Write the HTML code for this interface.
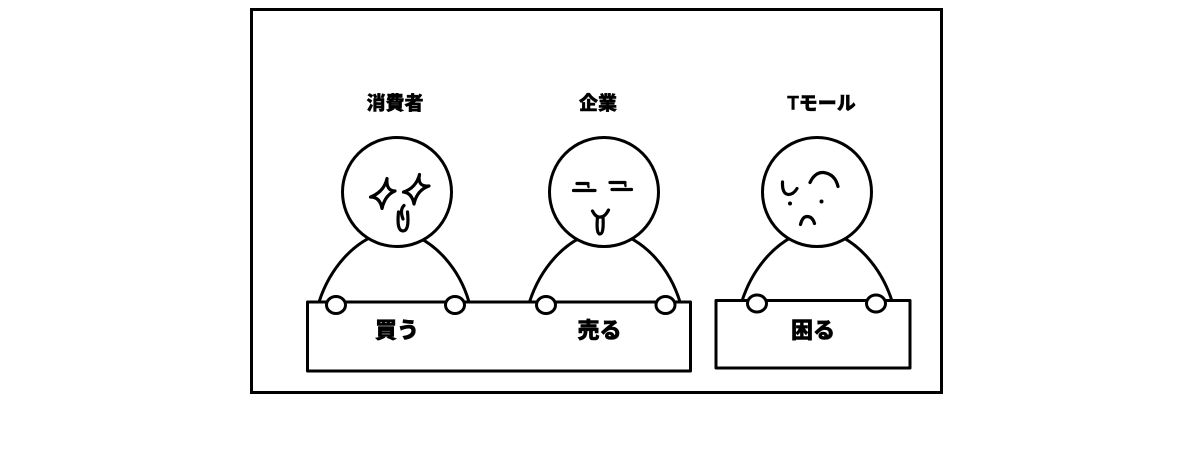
<!DOCTYPE html>
<html>
<head>
<meta charset="utf-8">
<style>
  html, body { margin:0; padding:0; background:#fff; }
  body { width:1197px; height:460px; overflow:hidden; }
  svg { display:block; }
  text { font-family: "Liberation Sans", "Noto Sans CJK JP", sans-serif; font-weight:900; fill:#000; }
</style>
</head>
<body>
<svg width="1197" height="460" viewBox="0 0 1197 460" xmlns="http://www.w3.org/2000/svg">
  <rect x="0" y="0" width="1197" height="460" fill="#fff"/>
  <!-- outer frame -->
  <rect x="251.5" y="9.5" width="690" height="383" fill="#fff" stroke="#000" stroke-width="3"/>

  <!-- labels -->
  <text x="395" y="109.5" font-size="19" text-anchor="middle" stroke="#000" stroke-width="0.4">消費者</text>
  <text x="598" y="109.5" font-size="19" text-anchor="middle" stroke="#000" stroke-width="0.4">企業</text>
  <text x="821.5" y="109.5" font-size="19" text-anchor="middle" stroke="#000" stroke-width="0.4">Tモール</text>

  <g fill="#fff" stroke="#000" stroke-width="3" stroke-linecap="round" stroke-linejoin="round">
    <!-- bodies -->
    <path d="M319,302 C328,274 352,236 394.5,230 C437,236 461,274 469,302"/>
    <path d="M529.5,302 C538.5,274 562.5,236 605,230 C647.5,236 671.5,274 680,302"/>
    <path d="M742,301 C751,273 775,235 817,229 C859,235 883,273 892,301"/>

    <!-- heads -->
    <circle cx="397" cy="192" r="54.5"/>
    <circle cx="604" cy="192" r="54.5"/>
    <circle cx="817" cy="192" r="54.5"/>

    <!-- boards -->
    <rect x="307.5" y="302" width="383" height="69"/>
    <rect x="716" y="300.5" width="194" height="67.5"/>

    <!-- hands -->
    <ellipse cx="336" cy="305" rx="9.5" ry="8.5"/>
    <ellipse cx="455" cy="305" rx="9.5" ry="8.5"/>
    <ellipse cx="546" cy="305" rx="9.5" ry="8.5"/>
    <ellipse cx="665.5" cy="305" rx="9.5" ry="8.5"/>
    <ellipse cx="757" cy="303.5" rx="9.5" ry="8.5"/>
    <ellipse cx="876" cy="303.5" rx="9.5" ry="8.5"/>
  </g>

  <!-- faces -->
  <g fill="none" stroke="#000" stroke-width="3.2" stroke-linecap="round" stroke-linejoin="round">
    <!-- consumer: sparkle eyes -->
    <path d="M387,178.5 Q386,191 395,191 Q385,195 382,208.5 Q380,197 370.5,197 Q384,192 387,178.5 Z"/>
    <path d="M419.5,174.5 Q417,187 429,186 Q417,190 414,204 Q412,193 403.5,192 Q416,188 419.5,174.5 Z"/>
    <!-- consumer mouth -->
    <path d="M398.5,212 Q396.5,231 403,231 Q409.5,231 407.5,212"/>
    <path d="M404,205.5 Q399.5,210 403,219"/>

    <!-- company: ニ eyes -->
    <path d="M577,183.5 L588,183.5 M573.5,190.5 L595,190.5"/>
    <path d="M610,182.5 L625,182.5 M612,189.5 L631.5,189.5"/>
    <path d="M625,182.5 L625.5,186" stroke-width="2.4"/>
    <path d="M588,183.5 L588.5,187" stroke-width="2.4"/>
    <!-- company mouth -->
    <path d="M592.5,211 Q596,218 600.5,217 Q605,217 608.5,210"/>
    <path d="M597.5,217 Q596,234 600,234 Q604,234 603,217"/>

    <!-- T-mall: troubled face -->
    <path d="M782.5,182 Q782,194 788.5,194.5 Q793.5,194.5 797,188.5"/>
    <path d="M810,182.5 Q815,172 823.5,172.5 Q835,174 838,186.5"/>
    <path d="M800.5,224.5 Q802.5,216.5 807,216.5 Q812.5,216.5 814.5,223.5"/>
  </g>
  <g fill="#000">
    <circle cx="790" cy="203.5" r="2"/>
    <circle cx="821.5" cy="201.5" r="2"/>
  </g>

  <!-- board texts -->
  <text x="397" y="338" font-size="22" text-anchor="middle" stroke="#000" stroke-width="0.5">買う</text>
  <text x="599.5" y="338" font-size="22" text-anchor="middle" stroke="#000" stroke-width="0.5">売る</text>
  <text x="813" y="338" font-size="22" text-anchor="middle" stroke="#000" stroke-width="0.5">困る</text>
</svg>
</body>
</html>
